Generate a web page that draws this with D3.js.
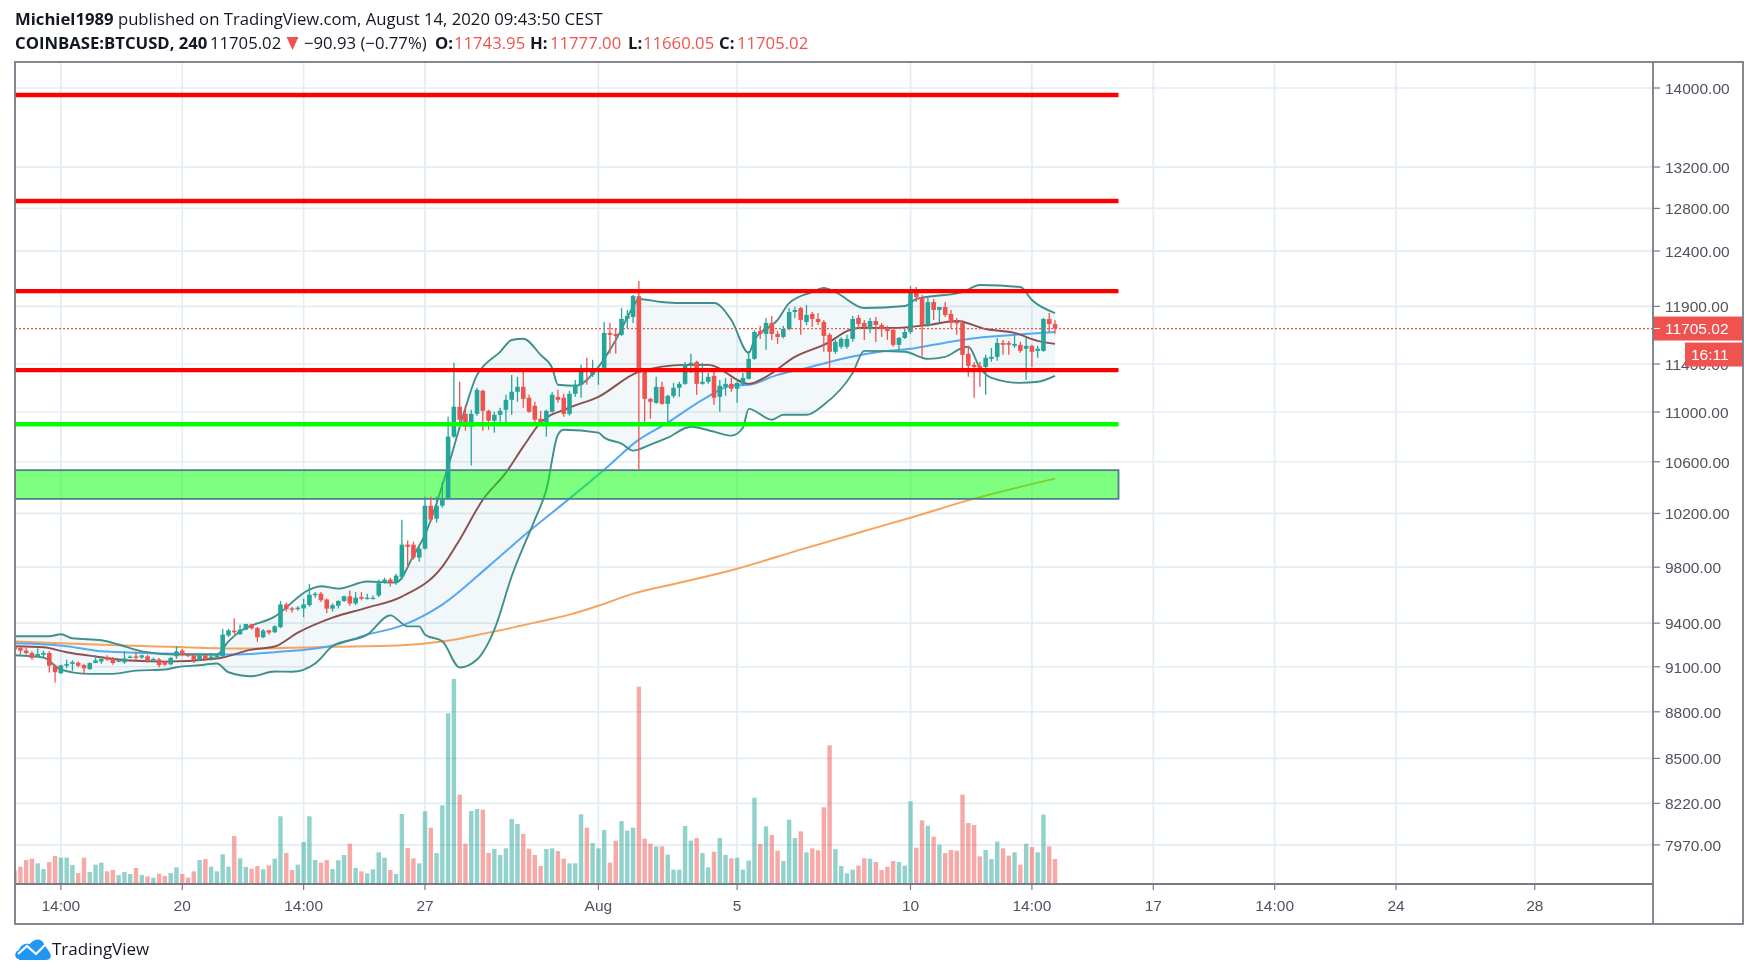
<!DOCTYPE html>
<html><head><meta charset="utf-8">
<script src="https://cdn.jsdelivr.net/npm/d3@7"></script>
<style>
html,body{margin:0;padding:0;background:#fff;overflow:hidden}
svg{display:block;filter:blur(0.45px)}
text{font-family:"Liberation Sans",Arial,sans-serif}
.hd text{font-family:"Open Sans",sans-serif;font-size:16.7px;fill:#131722}
</style></head><body><svg id="c" width="1760" height="978"></svg>
<script>
// Bars run from index -1 (clipped by the left frame) to 179
const firstBar = -1;
const opens = [
9240,9229,9210,9194,9171,9182,9194,9107,9056,9107,
9120,9127,9111,9084,9125,9136,9166,9155,9134,9130,
9162,9171,9164,9171,9146,9150,9132,9116,9171,9210,
9182,9178,9143,9178,9162,9164,9171,9314,9348,9323,
9355,9392,9366,9302,9350,9337,9373,9532,9504,9500,
9504,9528,9601,9608,9567,9502,9523,9557,9590,9539,
9585,9573,9573,9596,9690,9710,9690,9730,9966,9966,
9870,9936,10259,10160,10259,10313,10800,11043,10985,10880,
10985,11175,11010,10929,10977,11018,11100,11167,11208,11117,
11051,10945,10913,11002,11125,11117,10985,11150,11225,11367,
11308,11340,11367,11667,11658,11650,11789,11806,11991,11333,
11108,11075,11208,11067,11133,11200,11233,11401,11418,11233,
11250,11300,11125,11208,11233,11192,11233,11275,11444,11684,
11658,11754,11658,11632,11701,11850,11885,11762,11833,11789,
11762,11650,11504,11547,11547,11615,11798,11754,11710,11771,
11736,11710,11693,11564,11623,11675,12045,11982,11736,11938,
11868,11894,11833,11762,11754,11487,11393,11384,11375,11444,
11461,11580,11580,11555,11564,11530,11555,11512,11512,11789,
11743.95];
const highs = [
9249,9240,9228,9205,9226,9210,9205,9114,9114,9148,
9143,9136,9120,9130,9178,9171,9178,9166,9153,9205,
9176,9203,9182,9182,9162,9160,9141,9166,9240,9222,
9194,9187,9187,9187,9194,9189,9360,9360,9433,9390,
9396,9396,9373,9360,9355,9385,9557,9546,9516,9521,
9573,9677,9620,9620,9574,9539,9562,9596,9631,9620,
9620,9608,9596,9711,9724,9724,9753,10153,9996,9988,
9951,10328,10328,10328,10444,10961,11410,11250,11059,11018,
11200,11183,11018,11002,11035,11142,11308,11292,11333,11142,
11084,11010,11018,11165,11183,11150,11175,11266,11393,11453,
11436,11375,11762,11754,11710,11885,11868,12000,12126,11333,
11117,11292,11250,11142,11241,11250,11418,11487,11427,11410,
11325,11333,11266,11283,11283,11250,11325,11512,11690,11728,
11798,11815,11684,11728,11885,11894,11894,11912,11850,11841,
11780,11667,11606,11630,11650,11815,11824,11780,11798,11806,
11754,11728,11710,11632,11710,12081,12072,12000,11982,11965,
11894,11938,11868,11798,11780,11555,11418,11418,11478,11538,
11623,11606,11598,11658,11590,11623,11564,11555,11798,11841,
11777];
const lows = [
9205,9183,9183,9148,9166,9166,9061,8994,9051,9090,
9074,9097,9049,9079,9125,9120,9141,9114,9130,9120,
9157,9143,9153,9130,9132,9097,9107,9111,9153,9171,
9166,9125,9139,9143,9143,9153,9166,9304,9325,9318,
9350,9355,9270,9295,9320,9332,9366,9481,9475,9488,
9442,9516,9580,9550,9470,9481,9504,9550,9523,9527,
9562,9567,9567,9585,9680,9660,9672,9710,9796,9855,
9840,9929,10138,10131,10244,10305,10792,10872,10848,10570,
10970,10848,10856,10832,10921,10913,10977,11084,11034,10994,
10913,10896,10800,10994,11075,10961,10970,11125,11117,11225,
11292,11225,11350,11487,11487,11640,11710,11754,10538,10921,
10945,11067,11059,10913,11117,11125,11225,11325,11142,11225,
11233,11059,11002,11133,11167,11075,11217,11270,11436,11615,
11521,11606,11572,11620,11690,11798,11650,11736,11718,11736,
11504,11333,11487,11530,11530,11590,11710,11606,11667,11589,
11632,11606,11547,11521,11615,11658,11938,11461,11718,11780,
11762,11806,11701,11650,11342,11292,11117,11208,11142,11418,
11427,11478,11478,11538,11495,11266,11375,11453,11504,11675,
11660.05];
const closes = [
9217,9210,9194,9160,9187,9194,9107,9063,9109,9118,
9132,9107,9090,9125,9143,9153,9148,9125,9143,9157,
9169,9166,9178,9146,9153,9111,9114,9160,9205,9180,
9176,9148,9178,9153,9169,9178,9320,9350,9337,9355,
9394,9364,9302,9348,9334,9378,9532,9500,9495,9509,
9532,9601,9608,9562,9502,9527,9557,9590,9539,9580,
9573,9580,9580,9684,9710,9690,9739,9966,9950,9870,
9936,10259,10153,10259,10305,10800,11043,10937,10880,10985,
11183,11010,10929,10977,11010,11100,11167,11208,11108,11002,
10937,10913,11010,11142,11100,10985,11150,11225,11367,11350,
11358,11367,11667,11650,11641,11789,11815,11991,11325,11108,
11084,11208,11067,11133,11200,11233,11401,11410,11233,11250,
11292,11117,11217,11233,11192,11241,11283,11444,11675,11658,
11754,11658,11632,11701,11850,11868,11780,11824,11789,11762,
11641,11504,11589,11615,11615,11789,11745,11718,11771,11736,
11710,11684,11564,11623,11675,12027,11982,11736,11938,11868,
11894,11824,11754,11754,11478,11384,11375,11367,11453,11461,
11580,11564,11564,11572,11512,11555,11504,11530,11789,11744,
11705.02];
const volumes = [
40,52,72,76,62,45,66,84,79,79,
57,33,79,36,58,64,38,42,27,36,
30,48,27,23,19,31,24,33,50,30,
19,38,72,75,52,38,89,52,144,77,
51,46,54,44,56,76,203,93,42,58,
126,203,72,64,72,45,71,87,121,48,
38,32,44,95,79,42,30,210,108,77,
62,218,169,93,236,512,615,268,121,219,
225,223,93,105,87,107,195,180,150,106,
87,54,105,107,99,76,62,62,209,169,
123,107,162,64,130,189,160,169,592,136,
121,113,113,88,43,43,174,130,138,93,
50,97,138,87,77,79,43,70,259,120,
173,147,100,69,193,138,158,95,107,101,
230,416,105,54,32,43,55,77,76,66,
42,52,69,66,55,248,109,191,175,142,
118,93,102,100,268,183,177,83,102,75,
127,107,85,95,58,121,111,95,208,113,
75];
// Indicator readings: [bar, price]
const ema200 = [[-1,9272],[14,9250],[26,9236],[37,9224],[54,9236],[66,9247],[73,9272],[81,9334],[89,9404],[95,9460],[100,9523],[106,9609],[115,9696],[124,9789],[135,9929],[145,10055],[154,10168],[165,10313],[179,10468]];
const sma50 = [[-1,9260],[8,9240],[14,9205],[25,9190],[37,9183],[44,9199],[54,9245],[60,9320],[66,9383],[73,9531],[81,9806],[88,10065],[95,10313],[101,10538],[107,10776],[112,10913],[118,11100],[123,11217],[126,11225],[131,11308],[136,11367],[144,11464],[149,11507],[154,11530],[158,11564],[164,11615],[172,11650],[179,11675]];
const basis = [[-1,9240],[4,9233],[8,9199],[13,9170],[19,9142],[25,9135],[34,9156],[40,9217],[44,9238],[48,9334],[54,9439],[60,9509],[66,9588],[73,9804],[76,10003],[80,10305],[84,10515],[87,10720],[90,10913],[95,11035],[100,11125],[107,11333],[115,11393],[119,11393],[126,11233],[129,11292],[134,11461],[139,11564],[145,11710],[151,11710],[157,11736],[162,11771],[167,11701],[172,11667],[176,11598],[179,11572]];
const bandUpper = [[-1,9309],[5,9309],[7,9323],[9,9295],[14,9281],[17,9252],[21,9205],[27,9183],[34,9183],[36,9274],[38,9343],[44,9446],[50,9638],[52,9662],[55,9645],[60,9696],[65,9688],[68,9885],[70,10040],[74,10562],[77,11035],[79,11308],[80,11375],[83,11504],[85,11606],[87,11617],[90,11478],[92,11367],[93,11225],[96,11217],[100,11375],[103,11606],[106,11894],[107,11965],[111,11938],[114,11929],[120,11929],[123,11780],[126,11495],[127,11606],[131,11780],[133,11929],[137,12027],[139,12063],[141,12027],[146,11885],[153,11903],[155,11965],[163,12027],[166,12090],[173,12072],[175,11956],[179,11841]];
const bandLower = [[-1,9178],[4,9162],[7,9081],[12,9052],[16,9052],[20,9074],[25,9081],[27,9097],[31,9110],[34,9122],[36,9063],[40,9036],[44,9068],[47,9066],[51,9122],[54,9240],[60,9320],[64,9455],[67,9378],[69,9378],[70,9320],[73,9274],[76,9095],[79,9149],[82,9355],[85,9734],[89,10153],[91,10382],[93,10816],[94,10856],[100,10832],[101,10792],[104,10744],[106,10688],[109,10736],[112,10792],[116,10880],[120,10840],[123,10808],[125,10872],[126,11026],[130,10937],[132,10977],[136,10977],[139,11059],[144,11325],[146,11512],[153,11504],[157,11444],[160,11461],[163,11538],[164,11547],[166,11367],[168,11283],[173,11241],[176,11250],[179,11300]];
const priceTicks = [14000,13200,12800,12400,11900,11400,11000,10600,10200,9800,9400,9100,8800,8500,8220,7970];
const timeBars = [7,28,49,70,100,124,154,175,196,217,238,262];
const timeLabels = ["14:00","20","14:00","27","Aug","5","10","14:00","17","14:00","24","28"];
const resistanceLines = [13927,12870,12036,11348];
const supportLine = 10900;
const demandZone = [10534,10311];
const lastPrice = 11705.02;
const countdown = "16:11";

const TEAL="#26a69a", RED="#ef5350";
const L=15,T=62,AX=1653,R=1743,B=924,VB=884,LINE_END=1118.5;
const x=d3.scaleLinear().domain([0,262]).range([20.4,20.4+5.78*262]);
const y=d3.scaleLog().domain([14000,11000]).range([88,412]);
const yv=d3.scaleLinear().domain([0,615]).range([VB,VB-205]);
const svg=d3.select("#c");
svg.append("defs").append("clipPath").attr("id","clip").append("rect").attr("x",L).attr("y",T).attr("width",AX-L).attr("height",VB-T);
const bars=opens.map((o,i)=>({k:i+firstBar,o,h:highs[i],l:lows[i],c:closes[i],v:volumes[i]}));

// grid
const grid=svg.append("g").attr("stroke","#e4edf3").attr("stroke-width",1.7);
grid.selectAll(".h").data(priceTicks).join("line").attr("x1",L).attr("x2",AX).attr("y1",d=>y(d)).attr("y2",d=>y(d));
grid.selectAll(".v").data(timeBars).join("line").attr("x1",d=>x(d)).attr("x2",d=>x(d)).attr("y1",T).attr("y2",VB);

const plot=svg.append("g").attr("clip-path","url(#clip)");
// volume
plot.selectAll(".vol").data(bars).join("rect")
 .attr("x",d=>x(d.k)-2.2).attr("width",4.4).attr("y",d=>yv(d.v)).attr("height",d=>VB-yv(d.v))
 .attr("fill",d=>d.c>=d.o?TEAL:RED).attr("opacity",.5);
// bollinger
const lineGen=d3.line().x(d=>x(d[0])).y(d=>y(d[1]));
const smooth=d3.line().x(d=>x(d[0])).y(d=>y(d[1])).curve(d3.curveMonotoneX);
plot.append("path").attr("d",lineGen(bandUpper.concat(bandLower.slice().reverse()))+"Z").attr("fill","#5f9fb0").attr("opacity",.08);
plot.append("path").attr("d",smooth(ema200)).attr("fill","none").attr("stroke","#f7a35c").attr("stroke-width",2);
plot.append("path").attr("d",smooth(sma50)).attr("fill","none").attr("stroke","#55a9f2").attr("stroke-width",2);
[bandUpper,bandLower].forEach(b=>plot.append("path").attr("d",smooth(b)).attr("fill","none").attr("stroke","#3f8f8a").attr("stroke-width",1.9));
plot.append("path").attr("d",smooth(basis)).attr("fill","none").attr("stroke","#8a5050").attr("stroke-width",1.9);
// demand zone
plot.append("rect").attr("x",L).attr("width",LINE_END-L).attr("y",y(demandZone[0])).attr("height",y(demandZone[1])-y(demandZone[0]))
 .attr("fill","#00ff00").attr("fill-opacity",.5).attr("stroke","#4f7f8f").attr("stroke-width",1.8);
// candles
plot.selectAll(".w").data(bars).join("line").attr("x1",d=>x(d.k)).attr("x2",d=>x(d.k)).attr("y1",d=>y(d.h)).attr("y2",d=>y(d.l))
 .attr("stroke",d=>d.c>=d.o?TEAL:RED).attr("stroke-width",1.3);
plot.selectAll(".b").data(bars).join("rect").attr("x",d=>x(d.k)-2.3).attr("width",4.6)
 .attr("y",d=>y(Math.max(d.o,d.c))).attr("height",d=>Math.max(1.4,Math.abs(y(d.o)-y(d.c))))
 .attr("fill",d=>d.c>=d.o?TEAL:RED);
// horizontal levels
plot.selectAll(".r").data(resistanceLines).join("line").attr("x1",L).attr("x2",LINE_END).attr("y1",d=>y(d)).attr("y2",d=>y(d)).attr("stroke","#ff0000").attr("stroke-width",4.4);
plot.append("line").attr("x1",L).attr("x2",LINE_END).attr("y1",y(supportLine)).attr("y2",y(supportLine)).attr("stroke","#00ff00").attr("stroke-width",4.4);
// last price line
plot.append("line").attr("x1",L).attr("x2",AX).attr("y1",y(lastPrice)).attr("y2",y(lastPrice)).attr("stroke",RED).attr("stroke-width",1.2).attr("stroke-dasharray","2 2");

// price axis
const pa=svg.append("g");
pa.selectAll("line").data(priceTicks).join("line").attr("x1",AX).attr("x2",AX+7).attr("y1",d=>y(d)).attr("y2",d=>y(d)).attr("stroke","#787b86").attr("stroke-width",1.2);
pa.selectAll("text").data(priceTicks).join("text").attr("x",1665).attr("y",d=>y(d)+6).attr("font-size",15.5).attr("fill","#50535e").text(d=>d3.format(".2f")(d));
// time axis
const ta=svg.append("g");
ta.selectAll("line").data(timeBars).join("line").attr("x1",d=>x(d)).attr("x2",d=>x(d)).attr("y1",VB).attr("y2",VB+6).attr("stroke","#787b86").attr("stroke-width",1.2);
ta.selectAll("text").data(timeBars).join("text").attr("x",d=>x(d)).attr("y",911).attr("text-anchor","middle").attr("font-size",15.5).attr("fill","#50535e").text((d,i)=>timeLabels[i]);
// last price tags
svg.append("rect").attr("x",AX).attr("y",y(lastPrice)-12).attr("width",R-AX).attr("height",24).attr("fill",RED);
svg.append("line").attr("x1",AX).attr("x2",AX+7).attr("y1",y(lastPrice)).attr("y2",y(lastPrice)).attr("stroke","#fff");
svg.append("text").attr("x",1665).attr("y",y(lastPrice)+5.5).attr("font-size",15.5).attr("fill","#fff").text(d3.format(".2f")(lastPrice));
svg.append("rect").attr("x",1685).attr("y",y(lastPrice)+14).attr("width",R-1685).attr("height",24).attr("fill",RED);
svg.append("text").attr("x",1691).attr("y",y(lastPrice)+31.5).attr("font-size",15.5).attr("fill","#fff").text(countdown);
// frame
const fr=svg.append("g").attr("stroke","#787b86").attr("stroke-width",1.8).attr("fill","none");
fr.append("rect").attr("x",L).attr("y",T).attr("width",R-L).attr("height",B-T);
fr.append("line").attr("x1",AX).attr("x2",AX).attr("y1",T).attr("y2",B);
fr.append("line").attr("x1",L).attr("x2",AX).attr("y1",VB).attr("y2",VB);

// header
const hd=svg.append("g").attr("class","hd");
const h1=hd.append("text").attr("x",15).attr("y",25);
h1.append("tspan").attr("font-weight",700).text("Michiel1989");
h1.append("tspan").text(" published on TradingView.com, August 14, 2020 09:43:50 CEST");
const row2=[[15,"COINBASE:BTCUSD, 240",700,"#131722"],[210,"11705.02",400,"#131722"],[304,"−90.93 (−0.77%)",400,"#131722"],
[435,"O:",700,"#131722"],[454,"11743.95",400,RED],[530,"H:",700,"#131722"],[550,"11777.00",400,RED],
[628,"L:",700,"#131722"],[643,"11660.05",400,RED],[719,"C:",700,"#131722"],[737,"11705.02",400,RED]];
hd.selectAll(".r2").data(row2).join("text").attr("x",d=>d[0]).attr("y",49).attr("font-weight",d=>d[2]).style("fill",d=>d[3]).text(d=>d[1]);
svg.append("path").attr("d","M286.5 37H298.5L292.5 50Z").attr("fill",RED);
// logo
const logo=svg.append("g").attr("transform","translate(15,939)");
logo.append("path").attr("d","M4 20C-1 20-1 12 4 11 6 5 11 4 15 5 19-1 27-1 29 5 31 8 33 11 35 14 37 18 35 21 31 21H4Z").attr("fill","#2196f3");
logo.append("path").attr("d","M3 15L12 7 21 15 30 6").attr("fill","none").attr("stroke","#fff").attr("stroke-width",2.2);
svg.append("text").attr("x",52).attr("y",955).style("font-family","'Open Sans',sans-serif").attr("font-size",17).attr("fill","#131722").text("TradingView");
</script></body></html>
